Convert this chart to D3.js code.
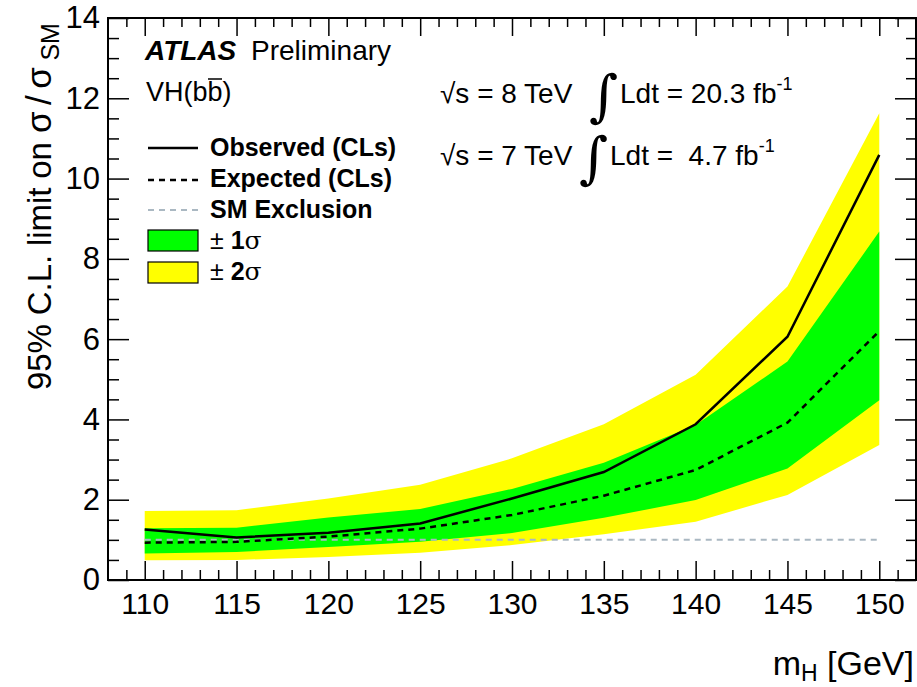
<!DOCTYPE html>
<html>
<head>
<meta charset="utf-8">
<script src="https://cdn.jsdelivr.net/npm/d3@7"></script>
<style>
  html, body { margin: 0; padding: 0; background: #fff; }
  svg { display: block; font-family: "Liberation Sans", Arial, Helvetica, sans-serif; }
</style>
</head>
<body>
<svg id="chart" width="917" height="687"></svg>
<script>
// Higgs mass points (GeV)
const mass = [110, 115, 120, 125, 130, 135, 140, 145, 150];
// 95% CL limits on sigma/sigma_SM
const observed = [1.26, 1.06, 1.18, 1.41, 2.03, 2.69, 3.88, 6.06, 10.59];
const expected = [0.93, 0.95, 1.08, 1.28, 1.62, 2.10, 2.74, 3.92, 6.20];
const band1Up = [1.29, 1.30, 1.56, 1.77, 2.27, 2.92, 3.86, 5.44, 8.68];
const band1Dn = [0.66, 0.70, 0.82, 0.95, 1.17, 1.55, 1.99, 2.78, 4.48];
const band2Up = [1.72, 1.74, 2.03, 2.37, 3.03, 3.88, 5.11, 7.31, 11.63];
const band2Dn = [0.49, 0.50, 0.57, 0.68, 0.87, 1.14, 1.45, 2.12, 3.36];
const smLevel = 1;
const xMajorTicks = [110, 115, 120, 125, 130, 135, 140, 145, 150];
const yMajorTicks = [0, 2, 4, 6, 8, 10, 12, 14];

const svg = d3.select("#chart");
const frameL = 108, frameR = 916, frameT = 18, frameB = 580;

const x = d3.scaleLinear().domain([108, 152]).range([frameL, frameR]);
const y = d3.scaleLinear().domain([0, 14]).range([frameB, frameT]);

const rows = mass.map((m, i) => ({
  m, obs: observed[i], exp: expected[i],
  u1: band1Up[i], d1: band1Dn[i], u2: band2Up[i], d2: band2Dn[i]
}));

// uncertainty bands
const area2 = d3.area().x(d => x(d.m)).y0(d => y(d.d2)).y1(d => y(d.u2));
const area1 = d3.area().x(d => x(d.m)).y0(d => y(d.d1)).y1(d => y(d.u1));
svg.append("path").datum(rows).attr("d", area2).attr("fill", "#ffff00");
svg.append("path").datum(rows).attr("d", area1).attr("fill", "#00ff00");

// SM reference line
svg.append("line")
  .attr("x1", x(110)).attr("x2", x(150))
  .attr("y1", y(smLevel)).attr("y2", y(smLevel))
  .attr("stroke", "#aab8c2").attr("stroke-width", 2)
  .attr("stroke-dasharray", "6,5");

// expected and observed limits
const lineExp = d3.line().x(d => x(d.m)).y(d => y(d.exp));
const lineObs = d3.line().x(d => x(d.m)).y(d => y(d.obs));
svg.append("path").datum(rows).attr("d", lineExp)
  .attr("fill", "none").attr("stroke", "#000").attr("stroke-width", 2.5)
  .attr("stroke-dasharray", "6,5");
svg.append("path").datum(rows).attr("d", lineObs)
  .attr("fill", "none").attr("stroke", "#000").attr("stroke-width", 2.5);

// axes: ticks point inward on all four sides
const xMinor = d3.range(109, 152, 1).filter(v => !xMajorTicks.includes(v));
const yMinor = d3.range(0.5, 14, 0.5).filter(v => !yMajorTicks.includes(v));

function styleAxis(g) {
  g.select(".domain").remove();
  g.selectAll(".tick line").attr("stroke", "#000").attr("stroke-width", 1.5);
}

svg.append("g").attr("transform", `translate(0,${frameB})`)
  .call(d3.axisBottom(x).tickValues(xMajorTicks).tickSize(-19).tickPadding(13).tickFormat(d3.format("d")))
  .call(styleAxis)
  .call(g => g.selectAll("text").attr("font-size", 30).attr("fill", "#000").attr("font-family", "Liberation Sans, Arial, sans-serif"));
svg.append("g").attr("transform", `translate(0,${frameB})`)
  .call(d3.axisBottom(x).tickValues(xMinor).tickSize(-10).tickFormat(""))
  .call(styleAxis);
svg.append("g").attr("transform", `translate(0,${frameT})`)
  .call(d3.axisTop(x).tickValues(xMajorTicks).tickSize(-18).tickFormat(""))
  .call(styleAxis);
svg.append("g").attr("transform", `translate(0,${frameT})`)
  .call(d3.axisTop(x).tickValues(xMinor).tickSize(-9).tickFormat(""))
  .call(styleAxis);

svg.append("g").attr("transform", `translate(${frameL},0)`)
  .call(d3.axisLeft(y).tickValues(yMajorTicks).tickSize(-21).tickPadding(8).tickFormat(d3.format("d")))
  .call(styleAxis)
  .call(g => g.selectAll("text").attr("font-size", 31).attr("fill", "#000").attr("font-family", "Liberation Sans, Arial, sans-serif"));
svg.append("g").attr("transform", `translate(${frameL},0)`)
  .call(d3.axisLeft(y).tickValues(yMinor).tickSize(-11).tickFormat(""))
  .call(styleAxis);
svg.append("g").attr("transform", `translate(${frameR},0)`)
  .call(d3.axisRight(y).tickValues(yMajorTicks).tickSize(-21).tickFormat(""))
  .call(styleAxis);
svg.append("g").attr("transform", `translate(${frameR},0)`)
  .call(d3.axisRight(y).tickValues(yMinor).tickSize(-10).tickFormat(""))
  .call(styleAxis);

// frame
svg.append("rect")
  .attr("x", frameL).attr("y", frameT).attr("width", frameR - frameL).attr("height", frameB - frameT)
  .attr("fill", "none").attr("stroke", "#000").attr("stroke-width", 2);

// axis titles
const yTitle = svg.append("text")
  .attr("transform", `translate(51,390) rotate(-90)`)
  .attr("font-size", 33).attr("fill", "#000");
yTitle.append("tspan").attr("textLength", 257).attr("lengthAdjust", "spacing")
  .text("95% C.L. limit on ");
yTitle.append("tspan").attr("font-size", 35).attr("textLength", 66).attr("lengthAdjust", "spacing")
  .text("σ/σ");
yTitle.append("tspan").attr("font-size", 25).attr("dy", 8).text("SM");

const xTitle = svg.append("text")
  .attr("x", 914).attr("y", 675)
  .attr("text-anchor", "end").attr("font-size", 34).attr("fill", "#000");
xTitle.append("tspan").text("m");
xTitle.append("tspan").attr("font-size", 23).attr("dy", 6).text("H");
xTitle.append("tspan").attr("dy", -6).text(" [GeV]");

// experiment label
svg.append("text").attr("x", 145).attr("y", 60).attr("font-size", 28).attr("fill", "#000")
  .attr("font-weight", "bold").attr("font-style", "italic").text("ATLAS");
svg.append("text").attr("x", 251).attr("y", 60).attr("font-size", 28).attr("fill", "#000")
  .text("Preliminary");

svg.append("text").attr("x", 146).attr("y", 101).attr("font-size", 27).attr("fill", "#000").text("VH(bb)");
// bar over the second b
svg.append("line").attr("x1", 208).attr("x2", 222).attr("y1", 79).attr("y2", 79)
  .attr("stroke", "#000").attr("stroke-width", 1.5);

// luminosity lines
function lumiLine(sqrtS, lumi, baseY, intX, lx) {
  svg.append("text").attr("x", 440).attr("y", baseY).attr("font-size", 28).attr("fill", "#000")
    .text("√s = " + sqrtS + " TeV");
  svg.append("text").attr("x", intX).attr("y", baseY + 12).attr("font-size", 56)
    .attr("font-family", "DejaVu Serif, serif").attr("fill", "#000").text("∫");
  const l = svg.append("text").attr("x", lx).attr("y", baseY).attr("font-size", 28).attr("fill", "#000");
  l.append("tspan").text("Ldt = " + lumi + " fb");
  l.append("tspan").attr("font-size", 18).attr("dy", -13).text("-1");
}
lumiLine("8", "20.3", 103, 589, 620);
lumiLine("7", "\u00a04.7", 165, 579, 610);

// legend
const legX0 = 148, legX1 = 198, legTx = 210;
const leg = svg.append("g").attr("font-size", 25).attr("font-weight", "bold").attr("fill", "#000");
svg.append("line").attr("x1", legX0).attr("x2", legX1).attr("y1", 148).attr("y2", 148)
  .attr("stroke", "#000").attr("stroke-width", 2.5);
leg.append("text").attr("x", legTx).attr("y", 156).text("Observed (CLs)");
svg.append("line").attr("x1", legX0).attr("x2", legX1).attr("y1", 180).attr("y2", 180)
  .attr("stroke", "#000").attr("stroke-width", 2.5).attr("stroke-dasharray", "6,5");
leg.append("text").attr("x", legTx).attr("y", 187).text("Expected (CLs)");
svg.append("line").attr("x1", legX0).attr("x2", legX1).attr("y1", 210).attr("y2", 210)
  .attr("stroke", "#aab8c2").attr("stroke-width", 2).attr("stroke-dasharray", "6,5");
leg.append("text").attr("x", legTx).attr("y", 218).text("SM Exclusion");
svg.append("rect").attr("x", legX0).attr("y", 230).attr("width", 50).attr("height", 21)
  .attr("fill", "#00ff00").attr("stroke", "#000").attr("stroke-width", 1.2);
svg.append("rect").attr("x", legX0).attr("y", 262).attr("width", 50).attr("height", 21)
  .attr("fill", "#ffff00").attr("stroke", "#000").attr("stroke-width", 1.2);
[["1", 249], ["2", 280]].forEach(([n, by]) => {
  const t = svg.append("text").attr("x", legTx).attr("y", by).attr("font-size", 25).attr("fill", "#000");
  t.append("tspan").text("± ");
  t.append("tspan").attr("font-weight", "bold").text(n);
  t.append("tspan").attr("font-family", "DejaVu Serif, serif").text("σ");
});
</script>
</body>
</html>
